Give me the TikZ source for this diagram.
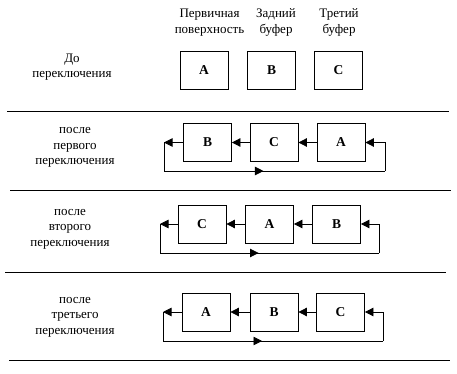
\documentclass[tikz,border=0pt]{standalone}
\usepackage{fontspec}
\setmainfont{Liberation Serif}
\usetikzlibrary{arrows.meta,decorations.markings}

\tikzset{
  buf/.style={draw, line width=.8pt, minimum width=48, minimum height=38, inner sep=0pt, font=\fontsize{13.5}{15}\selectfont\bfseries},
  lbl/.style={align=center, font=\fontsize{13}{15.5}\selectfont},
  arr/.style={line width=.8pt, -{Triangle[length=8.5pt,width=8.5pt]}},
  loopline/.style={line width=.8pt},
  midarrow/.style={loopline, postaction={decorate}, decoration={markings,
      mark=at position #1 with {\arrow{Triangle[length=8.5pt,width=8.5pt]}}}},
  sep/.style={line width=.8pt}
}

\begin{document}
\begin{tikzpicture}[x=1pt,y=-1pt]
        \useasboundingbox (0,0) rectangle (457,374);
        % headings
        \node[lbl] (hprim) at (209.5,22.5) {Первичная\\поверхность};
        \node[lbl] (hback) at (276,22.5) {Задний\\буфер};
        \node[lbl] (hthird) at (339,22.5) {Третий\\буфер};

        % before
        \node[lbl] (t0) at (72,67) {До\\переключения};
        \node[buf] (a0) at (204,70.5) {A};
        \node[buf] (b0) at (271.5,70.5) {B};
        \node[buf] (c0) at (338.5,70.5) {C};
        \draw[sep] (7,111) -- (449,111);

        % after first flip
        \node[lbl] (t1) at (75,147.5) {после\\первого\\переключения};
        \node[buf] (b1) at (207.5,142.5) {B};
        \node[buf] (c1) at (274,142.5) {C};
        \node[buf] (a1) at (341,142.5) {A};
        \coordinate (l1) at (164,142.5);
        \coordinate (lb1) at (164,171);
        \coordinate (rb1) at (385,171);
        \coordinate (r1) at (385,142.5);
        \draw[arr] (a1) -- (c1);
        \draw[arr] (c1) -- (b1);
        \draw[arr] (b1.west) -- (l1);
        \draw[loopline] (l1) -- (lb1);
        \draw[midarrow=.45] (lb1) -- (rb1);
        \draw[loopline] (rb1) -- (r1);
        \draw[arr] (r1) -- (a1.east);
        \draw[sep] (10,190) -- (451,190);

        % after second flip
        \node[lbl] (t2) at (70,229) {после\\второго\\переключения};
        \node[buf] (c2) at (202,224) {C};
        \node[buf] (a2) at (269.5,224) {A};
        \node[buf] (b2) at (336.5,224) {B};
        \coordinate (l2) at (160,224);
        \coordinate (lb2) at (160,253);
        \coordinate (rb2) at (379,253);
        \coordinate (r2) at (379,224);
        \draw[arr] (b2) -- (a2);
        \draw[arr] (a2) -- (c2);
        \draw[arr] (c2.west) -- (l2);
        \draw[loopline] (l2) -- (lb2);
        \draw[midarrow=.45] (lb2) -- (rb2);
        \draw[loopline] (rb2) -- (r2);
        \draw[arr] (r2) -- (b2.east);
        \draw[sep] (5,272) -- (446,272);

        % after third flip
        \node[lbl] (t3) at (75,317) {после\\третьего\\переключения};
        \node[buf] (a3) at (206,312) {A};
        \node[buf] (b3) at (274,312) {B};
        \node[buf] (c3) at (340.5,312) {C};
        \coordinate (l3) at (163,312);
        \coordinate (lb3) at (163,341);
        \coordinate (rb3) at (383,341);
        \coordinate (r3) at (383,312);
        \draw[arr] (c3) -- (b3);
        \draw[arr] (b3) -- (a3);
        \draw[arr] (a3.west) -- (l3);
        \draw[loopline] (l3) -- (lb3);
        \draw[midarrow=.45] (lb3) -- (rb3);
        \draw[loopline] (rb3) -- (r3);
        \draw[arr] (r3) -- (c3.east);
        \draw[sep] (9,360) -- (450,360);
    \end{tikzpicture}
\end{document}
